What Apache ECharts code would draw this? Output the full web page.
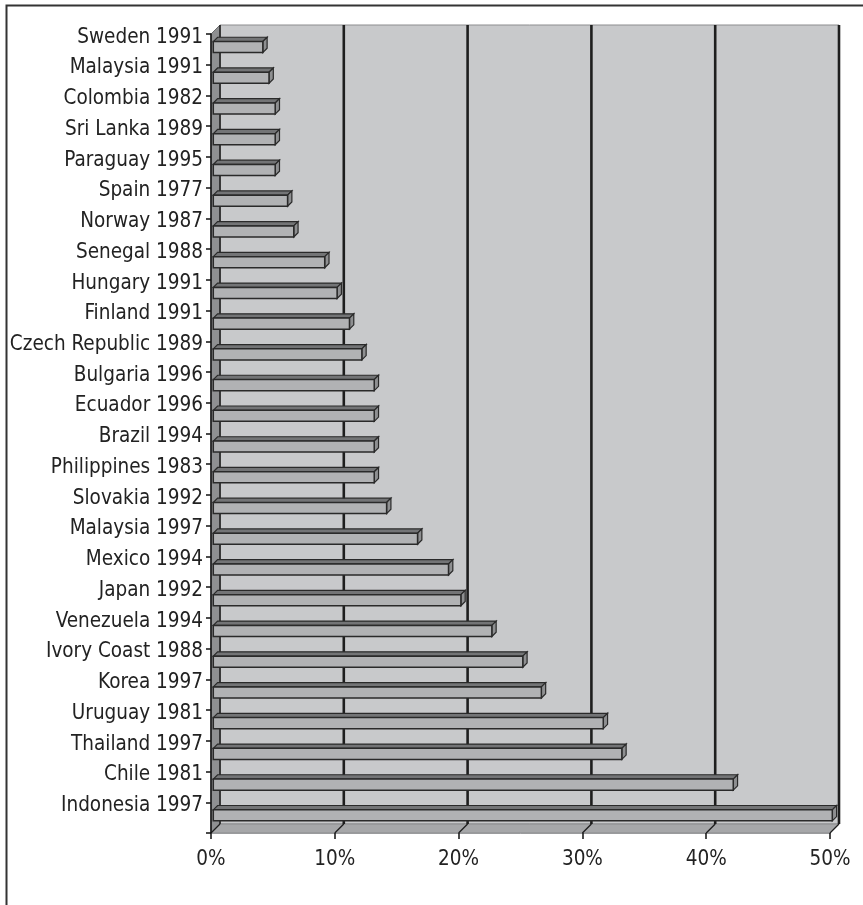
<!DOCTYPE html>
<html>
<head>
<meta charset="utf-8">
<script src="https://cdn.jsdelivr.net/npm/echarts@6/dist/echarts.min.js"></script>
<style>
  html, body { margin: 0; padding: 0; background: #fff; }
  #chart { width: 863px; height: 905px; }
</style>
</head>
<body>
<div id="chart"></div>
<script>
const categories = [
  'Sweden 1991', 'Malaysia 1991', 'Colombia 1982', 'Sri Lanka 1989', 'Paraguay 1995',
  'Spain 1977', 'Norway 1987', 'Senegal 1988', 'Hungary 1991', 'Finland 1991',
  'Czech Republic 1989', 'Bulgaria 1996', 'Ecuador 1996', 'Brazil 1994', 'Philippines 1983',
  'Slovakia 1992', 'Malaysia 1997', 'Mexico 1994', 'Japan 1992', 'Venezuela 1994',
  'Ivory Coast 1988', 'Korea 1997', 'Uruguay 1981', 'Thailand 1997', 'Chile 1981',
  'Indonesia 1997'
];
const values = [
  4, 4.5, 5, 5, 5,
  6, 6.5, 9, 10, 11,
  12, 13, 13, 13, 13,
  14, 16.5, 19, 20, 22.5,
  25, 26.5, 31.5, 33, 42,
  50
];
const xTicks = [0, 10, 20, 30, 40, 50];

const FONT = "'DejaVu Sans Condensed', 'Liberation Sans', sans-serif";
const FONT_SIZE = 20.5;
const DEPTH = 9;

const chart = echarts.init(document.getElementById('chart'), null, { renderer: 'canvas', width: 863, height: 905 });

function renderWalls(params, api) {
  const cs = params.coordSys;
  const D = DEPTH;
  const gx = cs.x, gy = cs.y, gw = cs.width, gh = cs.height;
  const bottom = gy + gh;
  const children = [];
  children.push({
    type: 'rect',
    shape: { x: gx + D, y: gy - D, width: gw, height: gh },
    style: { fill: '#c8c9cb', stroke: '#8c8d8f', lineWidth: 1 }
  });
  children.push({
    type: 'polygon',
    shape: { points: [[gx, gy], [gx + D, gy - D], [gx + D, bottom - D], [gx, bottom]] },
    style: { fill: '#8f9092', stroke: '#6a6b6d', lineWidth: 1 }
  });
  children.push({
    type: 'polygon',
    shape: { points: [[gx, bottom], [gx + D, bottom - D], [gx + gw + D, bottom - D], [gx + gw, bottom]] },
    style: { fill: '#a6a7a9', stroke: '#8a8b8d', lineWidth: 1 }
  });
  xTicks.forEach(function (t) {
    const x = api.coord([t, 0])[0];
    children.push({
      type: 'line',
      shape: { x1: x + D, y1: gy - D, x2: x + D, y2: bottom - D },
      style: { stroke: '#1e1e1e', lineWidth: t === 0 ? 1.5 : 2.6 }
    });
    children.push({
      type: 'line',
      shape: { x1: x + D, y1: bottom - D, x2: x, y2: bottom },
      style: { stroke: '#1e1e1e', lineWidth: 1.3 }
    });
  });
  return { type: 'group', children: children };
}

function renderBar(params, api) {
  const idx = api.value(1);
  const v = api.value(0);
  const c0 = api.coord([0, idx]);
  const c1 = api.coord([v, idx]);
  const band = api.size([0, 1])[1];
  const h = band * 0.36;
  const d0 = 2.3, d1 = 6.6;
  const dd = d1 - d0;
  const xl = c0[0] + d0;
  const xr = c1[0] + d0;
  const yt = c0[1] - h / 2 - d0;
  const yb = yt + h;
  const stroke = '#2a2a2a';
  return {
    type: 'group',
    children: [
      {
        type: 'polygon',
        shape: { points: [[xl, yt], [xr, yt], [xr + dd, yt - dd], [xl + dd, yt - dd]] },
        style: { fill: '#737476', stroke: stroke, lineWidth: 1.2 }
      },
      {
        type: 'polygon',
        shape: { points: [[xr, yt], [xr + dd, yt - dd], [xr + dd, yb - dd], [xr, yb]] },
        style: { fill: '#8e8f91', stroke: stroke, lineWidth: 1.2 }
      },
      {
        type: 'rect',
        shape: { x: xl, y: yt, width: xr - xl, height: h },
        style: { fill: '#b1b2b4', stroke: stroke, lineWidth: 1.5 }
      }
    ]
  };
}

const option = {
  backgroundColor: '#ffffff',
  animation: false,
  graphic: [
    {
      type: 'rect',
      left: 4, top: 3,
      shape: { width: 900, height: 950 },
      style: { fill: 'none', stroke: '#333', lineWidth: 2 },
      z: -10
    }
  ],
  grid: { left: 211, top: 34, right: 33, bottom: 72, containLabel: false, outerBoundsMode: 'none' },
  xAxis: {
    type: 'value',
    min: 0, max: 50, interval: 10,
    z: 10,
    splitLine: { show: false },
    axisLine: { show: true, lineStyle: { color: '#9a9b9d', width: 1 } },
    axisTick: { show: true, length: 6, lineStyle: { color: '#111', width: 1.5 } },
    axisLabel: {
      formatter: '{value}%',
      margin: 16,
      fontSize: FONT_SIZE,
      fontFamily: FONT,
      color: '#222'
    }
  },
  yAxis: {
    type: 'category',
    data: categories,
    inverse: true,
    z: 10,
    axisLine: { show: true, lineStyle: { color: '#111', width: 1.5 } },
    axisTick: { show: true, length: 5, lineStyle: { color: '#111', width: 1.5 } },
    splitLine: { show: false },
    axisLabel: {
      interval: 0,
      margin: 8,
      fontSize: FONT_SIZE,
      fontFamily: FONT,
      color: '#222',
      verticalAlign: 'bottom',
      lineHeight: 24
    }
  },
  series: [
    {
      type: 'custom',
      name: 'walls',
      silent: true,
      clip: false,
      renderItem: renderWalls,
      data: [[0, 0]],
      encode: { x: 0, y: 1 },
      z: 1
    },
    {
      type: 'custom',
      name: 'bars',
      silent: true,
      clip: false,
      renderItem: renderBar,
      data: values.map(function (v, i) { return [v, i]; }),
      encode: { x: 0, y: 1 },
      z: 2
    }
  ]
};

chart.setOption(option);
</script>
</body>
</html>
